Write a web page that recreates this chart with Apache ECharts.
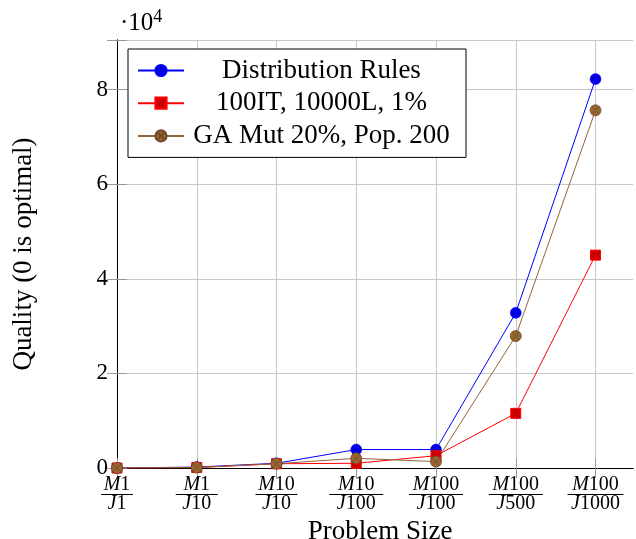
<!DOCTYPE html>
<html>
<head>
<meta charset="utf-8">
<script src="https://cdn.jsdelivr.net/npm/echarts@6/dist/echarts.min.js"></script>
<style>
  html, body { margin: 0; padding: 0; background: #fff; }
  #chart { width: 636px; height: 539px; }
</style>
</head>
<body>
<div id="chart"></div>
<script>
// problem sizes, shown as fractions M/J
var sizeTop = ["M1", "M1", "M10", "M10", "M100", "M100", "M100"];
var sizeBottom = ["J1", "J10", "J10", "J100", "J100", "J500", "J1000"];

var seriesNames = ["Distribution Rules", "100IT, 10000L, 1%", "GA Mut 20%, Pop. 200"];
var distRules = [0, 200, 1000, 3900, 3900, 32800, 82200];
var it100 = [0, 100, 900, 1000, 2600, 11550, 45000];
var gaMut = [0, 100, 900, 2050, 1350, 27900, 75600];

var yTicks = [0, 2, 4, 6, 8]; // times 10^4

var serif = "'Liberation Serif', 'DejaVu Serif', serif";

// fraction line width depends on longest part
var barW = { 2: 32, 3: 42, 4: 54, 5: 56 };

function mathPart(s) {
  // letter is italic, digits upright (like tex math)
  return "{it|" + s.charAt(0) + "}{rm|" + s.slice(1) + "}";
}

function toPoints(vals) {
  return vals.map(function (v, i) { return [i, v]; });
}

var sizeIdx = sizeTop.map(function (s, i) { return i; });

var otimes = "path://M10,0 A10,10 0 1,1 10,20 A10,10 0 1,1 10,0 Z M2.93,2.93 L17.07,17.07 M17.07,2.93 L2.93,17.07";

var chart = echarts.init(document.getElementById("chart"));

var fracRich = {
  it: { fontFamily: serif, fontStyle: "italic", fontSize: 20, lineHeight: 16, color: "#000", align: "center" },
  rm: { fontFamily: serif, fontSize: 20, lineHeight: 16, color: "#000", align: "center" }
};
Object.keys(barW).forEach(function (k) {
  fracRich["b" + k] = { width: barW[k], height: 1, lineHeight: 3, fontSize: 1, backgroundColor: "#000", align: "center" };
});

var option = {
  animation: false,
  backgroundColor: "#fff",
  title: {
    text: "{a|·10}{b|4}",
    left: 115,
    top: 3,
    textStyle: {
      rich: {
        a: { fontFamily: serif, fontWeight: "normal", fontSize: 25, color: "#000", lineHeight: 28, padding: [5, 0, 0, 0], verticalAlign: "bottom" },
        b: { fontFamily: serif, fontWeight: "normal", fontSize: 18, color: "#000", lineHeight: 18, verticalAlign: "top" }
      }
    }
  },
  grid: { left: 117, right: 3, top: 40, bottom: 71, containLabel: false, outerBoundsMode: "none" },
  legend: {
    orient: "vertical",
    left: 128,
    top: 49,
    itemWidth: 46,
    itemHeight: 14,
    itemGap: 5.7,
    padding: [8, 12, 8, 9],
    borderColor: "#000",
    borderWidth: 1,
    backgroundColor: "#fff",
    data: seriesNames,
    formatter: function (name) { return "{t|" + name + "}"; },
    textStyle: {
      rich: {
        t: { fontFamily: serif, fontSize: 27, lineHeight: 27, width: 265, align: "center", color: "#000" }
      }
    }
  },
  xAxis: [{
    type: "value",
    min: 0,
    max: 6.47,
    interval: 1,
    name: "Problem Size",
    nameLocation: "middle",
    nameGap: 44,
    nameTextStyle: { fontFamily: serif, fontSize: 27, color: "#000", padding: [0, 0, 0, 10] },
    axisLine: { lineStyle: { color: "#000", width: 1 } },
    axisTick: { inside: true, length: 10, lineStyle: { color: "#999" }, customValues: sizeIdx },
    splitLine: { show: true, lineStyle: { color: "#c8c8c8", width: 1 } },
    axisLabel: {
      margin: 9,
      customValues: sizeIdx,
      formatter: function (v) {
        var i = Math.round(v);
        if (i < 0 || i >= sizeTop.length) return "";
        var t = sizeTop[i], b = sizeBottom[i];
        var n = Math.max(t.length, b.length);
        return mathPart(t) + "\n{b" + n + "| }\n" + mathPart(b);
      },
      rich: fracRich
    }
  }, {
    type: "value",
    position: "top",
    min: 0,
    max: 6.47,
    interval: 1,
    axisLine: { lineStyle: { color: "#000", width: 1 } },
    axisTick: { inside: true, length: 10, lineStyle: { color: "#999" }, customValues: sizeIdx },
    axisLabel: { show: false },
    splitLine: { show: false }
  }],
  yAxis: [{
    type: "value",
    min: 0,
    max: 90470,
    interval: 20000,
    name: "Quality (0 is optimal)",
    nameLocation: "middle",
    nameGap: 80,
    nameTextStyle: { fontFamily: serif, fontSize: 27, color: "#000" },
    axisLine: { show: true, lineStyle: { color: "#000", width: 1 } },
    axisTick: { show: true, inside: true, length: 10, lineStyle: { color: "#999" } },
    splitLine: { show: true, lineStyle: { color: "#c8c8c8", width: 1 } },
    axisLabel: {
      margin: 9,
      fontFamily: serif,
      fontSize: 23,
      color: "#000",
      formatter: function (v) {
        var t = v / 10000;
        return yTicks.indexOf(t) >= 0 ? String(t) : "";
      }
    }
  }, {
    type: "value",
    position: "right",
    min: 0,
    max: 90470,
    interval: 20000,
    axisLine: { show: true, lineStyle: { color: "#000", width: 1 } },
    axisTick: { show: true, inside: true, length: 10, lineStyle: { color: "#999" } },
    axisLabel: { show: false },
    splitLine: { show: false }
  }],
  series: [{
    name: seriesNames[0],
    type: "line",
    data: toPoints(distRules),
    symbol: "circle",
    symbolSize: 11,
    lineStyle: { color: "#0000ff", width: 1 },
    itemStyle: { color: "#0000e0", borderColor: "#0000ff", borderWidth: 0.5 }
  }, {
    name: seriesNames[1],
    type: "line",
    data: toPoints(it100),
    symbol: "rect",
    symbolSize: 10,
    lineStyle: { color: "#ff0000", width: 1 },
    itemStyle: { color: "#cc0000", borderColor: "#ff0000", borderWidth: 1 }
  }, {
    name: seriesNames[2],
    type: "line",
    data: toPoints(gaMut),
    symbol: otimes,
    symbolSize: 11,
    lineStyle: { color: "#8f6540", width: 1 },
    itemStyle: { color: "#996633", borderColor: "#6e4a26", borderWidth: 0.8 }
  }]
};

chart.setOption(option);
</script>
</body>
</html>
